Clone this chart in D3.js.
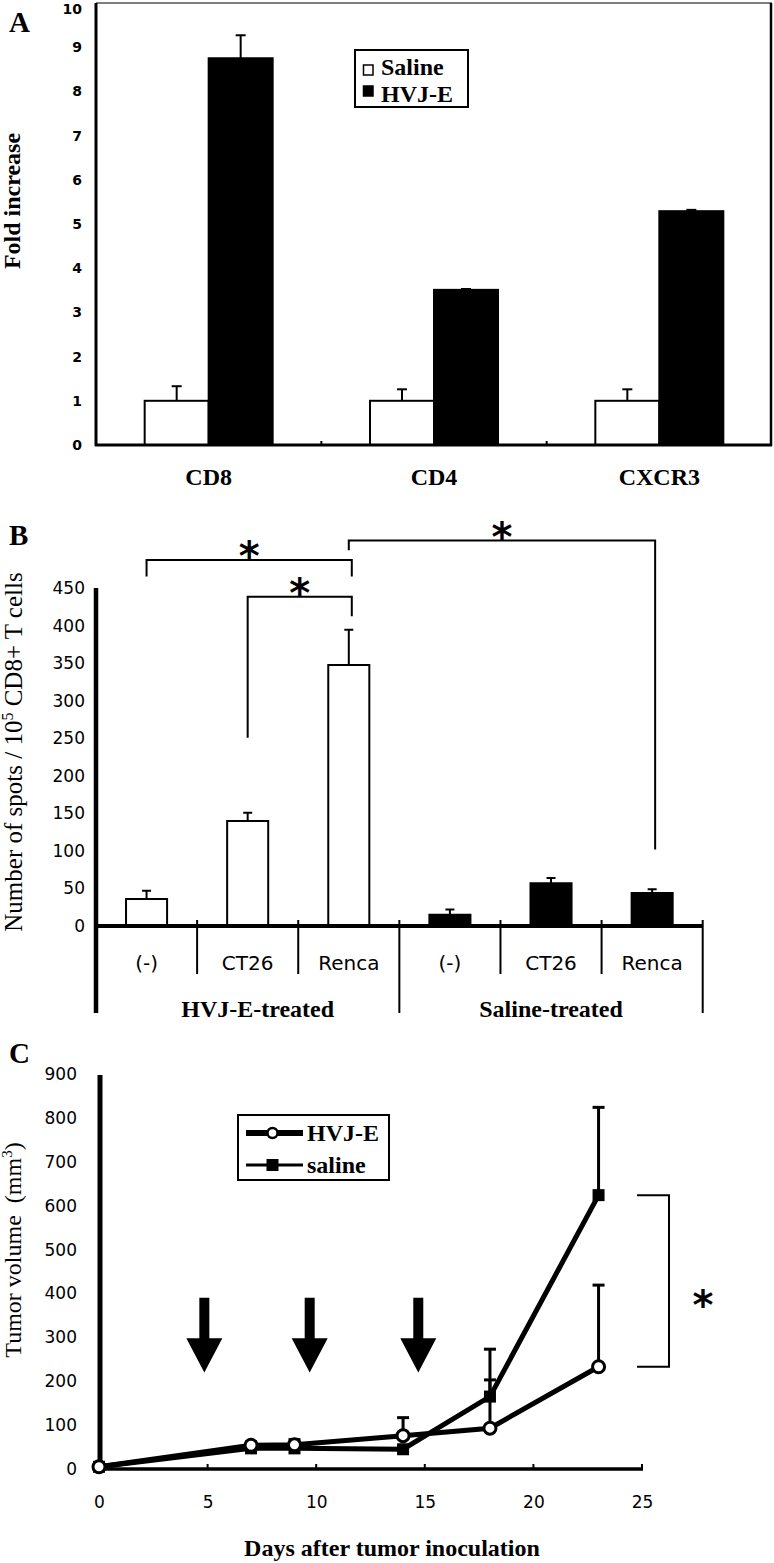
<!DOCTYPE html>
<html><head><meta charset="utf-8">
<script src="https://cdn.jsdelivr.net/npm/d3@7"></script>
<style>body{margin:0;background:#fff} svg{display:block} text{white-space:pre}</style>
</head><body>
<script>
// ---------- Panel A data ----------
const catsA = ["CD8", "CD4", "CXCR3"];
const seriesA = ["Saline", "HVJ-E"];
const salineA = [1, 1, 1];
const salineErrA = [0.33, 0.26, 0.26];
const hvjA = [8.75, 3.51, 5.29];
const hvjErrA = [0.52, 0.02, 0.03];
const ticksA = [0, 1, 2, 3, 4, 5, 6, 7, 8, 9, 10];

// ---------- Panel B data ----------
const groupsB = ["HVJ-E-treated", "Saline-treated"];
const targetsB = ["(-)", "CT26", "Renca"];
const hvjB = [36, 140, 348];
const hvjErrB = [11, 11, 47];
const salineB = [15, 57, 44];
const salineErrB = [7, 7, 5];
const ticksB = [0, 50, 100, 150, 200, 250, 300, 350, 400, 450];
// significance brackets: bar indices (0-5), bracket level, leg ends (data units)
const bracketsB = [
  {a: 0, b: 2, y: 488, ya: 466, yb: 466},
  {a: 1, b: 2, y: 439, ya: 251, yb: 413},
  {a: 2, b: 5, y: 514, ya: 501, yb: 102}
];

// ---------- Panel C data ----------
const daysC = [0, 7, 9, 14, 18, 23];
const hvjC = [5, 54, 55, 76, 93, 233];
const hvjErrC = [0, 8, 12, 41, 110, 186];
const salineC = [5, 47, 47, 45, 165, 624];
const salineErrC = [0, 5, 10, 5, 108, 200];
const ticksCx = [0, 5, 10, 15, 20, 25];
const ticksCy = [0, 100, 200, 300, 400, 500, 600, 700, 800, 900];
const arrowDaysC = [4.85, 9.7, 14.7];

const SERIF = "'Liberation Serif', 'Times New Roman', serif";
const SANS = "'DejaVu Sans', sans-serif";

const svg = d3.select("body").append("svg").attr("width", 774).attr("height", 1563)
  .style("background", "#fff");

function panelLetter(t, x, y) {
  svg.append("text").attr("x", x).attr("y", y).text(t)
    .attr("font-family", SERIF).attr("font-weight", "bold").attr("font-size", 29);
}

// ================= PANEL A =================
{
  const g = svg.append("g");
  const yA = d3.scaleLinear().domain([0, 10]).range([445, 3]);
  const xA = d3.scaleBand().domain(catsA).range([96, 772]).paddingInner(0.432).paddingOuter(0.216);
  const xA1 = d3.scaleBand().domain(seriesA).range([0, xA.bandwidth()]);

  // frame
  g.append("line").attr("x1", 96).attr("x2", 772).attr("y1", 3).attr("y2", 3).attr("stroke", "#555").attr("stroke-width", 1.5);
  g.append("line").attr("x1", 771).attr("x2", 771).attr("y1", 3).attr("y2", 446).attr("stroke", "#000").attr("stroke-width", 2.5);

  const vals = [salineA, hvjA], errs = [salineErrA, hvjErrA];
  seriesA.forEach((s, si) => {
    catsA.forEach((c, ci) => {
      const x = xA(c) + xA1(s), v = vals[si][ci], e = errs[si][ci];
      const cx = x + xA1.bandwidth() / 2;
      g.append("line").attr("x1", cx).attr("x2", cx).attr("y1", yA(v)).attr("y2", yA(v + e))
        .attr("stroke", "#000").attr("stroke-width", 2);
      g.append("line").attr("x1", cx - 5).attr("x2", cx + 5).attr("y1", yA(v + e)).attr("y2", yA(v + e))
        .attr("stroke", "#000").attr("stroke-width", 2);
      g.append("rect").attr("x", x).attr("y", yA(v)).attr("width", xA1.bandwidth()).attr("height", yA(0) - yA(v))
        .attr("fill", si === 0 ? "#fff" : "#000").attr("stroke", "#000").attr("stroke-width", 2);
    });
  });

  // axes
  g.append("line").attr("x1", 96).attr("x2", 96).attr("y1", 3).attr("y2", 446).attr("stroke", "#000").attr("stroke-width", 3);
  g.append("line").attr("x1", 95).attr("x2", 772).attr("y1", 445).attr("y2", 445).attr("stroke", "#000").attr("stroke-width", 3);
  const step = xA.step();
  catsA.slice(1).forEach(c => {
    const bx = xA(c) - xA.paddingInner() * step / 2;
    g.append("line").attr("x1", bx).attr("x2", bx).attr("y1", 445).attr("y2", 441).attr("stroke", "#000").attr("stroke-width", 2);
  });

  const ax = g.append("g").attr("transform", "translate(96,0)")
    .call(d3.axisLeft(yA).tickValues(ticksA).tickSize(0).tickPadding(14).tickFormat(d3.format("d")));
  ax.select(".domain").remove();
  ax.selectAll("text").attr("font-family", SANS).attr("font-weight", "bold").attr("font-size", 14).attr("fill", "#000")
    .attr("dy", d => d === 10 ? "0.75em" : "0.32em");

  catsA.forEach(c => {
    g.append("text").attr("x", xA(c) + xA.bandwidth() / 2).attr("y", 485).attr("text-anchor", "middle")
      .attr("font-family", SERIF).attr("font-weight", "bold").attr("font-size", 24).text(c);
  });

  g.append("text").attr("transform", "translate(20,201) rotate(-90)").attr("text-anchor", "middle")
    .attr("font-family", SERIF).attr("font-weight", "bold").attr("font-size", 24).text("Fold increase");

  // legend
  g.append("rect").attr("x", 355).attr("y", 50).attr("width", 113).attr("height", 57)
    .attr("fill", "#fff").attr("stroke", "#000").attr("stroke-width", 2);
  seriesA.forEach((s, i) => {
    const sy = 70 + i * 21;
    g.append("rect").attr("x", 363.5).attr("y", sy - 5).attr("width", 9.5).attr("height", 10)
      .attr("fill", i === 0 ? "#fff" : "#000").attr("stroke", "#000").attr("stroke-width", 1.5);
    g.append("text").attr("x", 381).attr("y", 75 + i * 27).attr("font-family", SERIF).attr("font-weight", "bold")
      .attr("font-size", 24).text(s);
  });
  panelLetter("A", 9, 32);
}

// ================= PANEL B =================
{
  const g = svg.append("g");
  const yB = d3.scaleLinear().domain([0, 450]).range([926, 588.5]);
  const ids = d3.range(6);
  const xB = d3.scaleBand().domain(ids).range([96, 702.7]).paddingInner(0.594).paddingOuter(0.297);
  const step = xB.step();
  const valsB = hvjB.concat(salineB), errsB = hvjErrB.concat(salineErrB);

  ids.forEach(i => {
    const v = valsB[i], e = errsB[i], x = xB(i), cx = x + xB.bandwidth() / 2;
    g.append("line").attr("x1", cx).attr("x2", cx).attr("y1", yB(v)).attr("y2", yB(v + e)).attr("stroke", "#000").attr("stroke-width", 2);
    g.append("line").attr("x1", cx - 4.5).attr("x2", cx + 4.5).attr("y1", yB(v + e)).attr("y2", yB(v + e)).attr("stroke", "#000").attr("stroke-width", 2);
    g.append("rect").attr("x", x).attr("y", yB(v)).attr("width", xB.bandwidth()).attr("height", yB(0) - yB(v))
      .attr("fill", i < 3 ? "#fff" : "#000").attr("stroke", "#000").attr("stroke-width", 2);
  });

  // axes
  g.append("line").attr("x1", 96).attr("x2", 96).attr("y1", 588).attr("y2", 1013).attr("stroke", "#000").attr("stroke-width", 4.5);
  g.append("line").attr("x1", 96).attr("x2", 703).attr("y1", 926).attr("y2", 926).attr("stroke", "#000").attr("stroke-width", 4);
  d3.range(1, 7).forEach(k => {
    const bx = 96 + k * step;
    const long = (k % 3 === 0);
    g.append("line").attr("x1", bx).attr("x2", bx).attr("y1", 920).attr("y2", long ? 1013 : 974)
      .attr("stroke", "#000").attr("stroke-width", 2);
  });

  const ax = g.append("g").attr("transform", "translate(96,0)")
    .call(d3.axisLeft(yB).tickValues(ticksB).tickSize(0).tickPadding(11).tickFormat(d3.format("d")));
  ax.select(".domain").remove();
  ax.selectAll("text").attr("font-family", SANS).attr("font-size", 17).attr("fill", "#000");

  ids.forEach(i => {
    g.append("text").attr("x", xB(i) + xB.bandwidth() / 2).attr("y", 970).attr("text-anchor", "middle")
      .attr("font-family", SANS).attr("font-size", 20).text(targetsB[i % 3]);
  });
  groupsB.forEach((gr, gi) => {
    g.append("text").attr("x", 96 + (gi * 3 + 1.5) * step + (gi === 0 ? 10 : 0)).attr("y", 1017).attr("text-anchor", "middle")
      .attr("font-family", SERIF).attr("font-weight", "bold").attr("font-size", 24).text(gr);
  });

  // y label
  const yl = g.append("text").attr("transform", "translate(22,752) rotate(-90)").attr("text-anchor", "middle")
    .attr("font-family", SERIF).attr("font-size", 25);
  yl.append("tspan").text("Number of spots / 10");
  yl.append("tspan").attr("dy", -9).attr("font-size", 16).text("5");
  yl.append("tspan").attr("dy", 9).text(" CD8+ T cells");

  // brackets
  bracketsB.forEach(b => {
    const xa = xB(b.a) + xB.bandwidth() / 2, xb = xB(b.b) + xB.bandwidth() / 2 + 3;
    g.append("path").attr("d", `M${xa},${yB(b.ya)}V${yB(b.y)}H${xb}V${yB(b.yb)}`)
      .attr("fill", "none").attr("stroke", "#000").attr("stroke-width", 2);
    g.append("text").attr("x", (xa + xb) / 2).attr("y", yB(b.y) + 10).attr("text-anchor", "middle")
      .attr("font-family", SANS).attr("font-weight", "bold").attr("font-size", 40).text("*");
  });
  panelLetter("B", 9, 545);
}

// ================= PANEL C =================
{
  const g = svg.append("g");
  const xC = d3.scaleLinear().domain([0, 25]).range([99, 642]);
  const yC = d3.scaleLinear().domain([0, 900]).range([1469, 1074]);

  // axes
  g.append("line").attr("x1", 100).attr("x2", 100).attr("y1", 1075).attr("y2", 1471).attr("stroke", "#000").attr("stroke-width", 5);
  g.append("line").attr("x1", 98).attr("x2", 643).attr("y1", 1469).attr("y2", 1469).attr("stroke", "#000").attr("stroke-width", 3.5);
  ticksCx.slice(1).forEach(t => {
    g.append("line").attr("x1", xC(t)).attr("x2", xC(t)).attr("y1", 1469).attr("y2", 1464).attr("stroke", "#000").attr("stroke-width", 2);
  });
  const ay = g.append("g").attr("transform", "translate(100,0)")
    .call(d3.axisLeft(yC).tickValues(ticksCy).tickSize(0).tickPadding(23).tickFormat(d3.format("d")));
  ay.select(".domain").remove();
  ay.selectAll("text").attr("font-family", SANS).attr("font-size", 17).attr("fill", "#000");
  const axb = g.append("g").attr("transform", "translate(0,1469)")
    .call(d3.axisBottom(xC).tickValues(ticksCx).tickSize(0).tickPadding(27).tickFormat(d3.format("d")));
  axb.select(".domain").remove();
  axb.selectAll("text").attr("font-family", SANS).attr("font-size", 17).attr("fill", "#000");

  g.append("text").attr("x", 392).attr("y", 1556).attr("text-anchor", "middle")
    .attr("font-family", SERIF).attr("font-weight", "bold").attr("font-size", 24).text("Days after tumor inoculation");
  const yl = g.append("text").attr("transform", "translate(21,1250) rotate(-90)").attr("text-anchor", "middle")
    .attr("font-family", SERIF).attr("font-size", 24);
  yl.append("tspan").text("Tumor volume  (mm");
  yl.append("tspan").attr("dy", -9).attr("font-size", 15).text("3");
  yl.append("tspan").attr("dy", 9).text(")");

  // arrows
  arrowDaysC.forEach(d => {
    const cx = xC(d);
    g.append("path").attr("d",
      `M${cx - 5},${yC(390)}H${cx + 5}V${yC(298)}H${cx + 18}L${cx},${yC(220)}L${cx - 18},${yC(298)}H${cx - 5}Z`)
      .attr("fill", "#000");
  });

  // error bars
  const errLines = [[salineC, salineErrC], [hvjC, hvjErrC]];
  errLines.forEach(([v, e]) => {
    daysC.forEach((d, i) => {
      if (e[i] <= 0) return;
      const x = xC(d);
      g.append("line").attr("x1", x).attr("x2", x).attr("y1", yC(v[i])).attr("y2", yC(v[i] + e[i])).attr("stroke", "#000").attr("stroke-width", 3);
      g.append("line").attr("x1", x - 6).attr("x2", x + 6).attr("y1", yC(v[i] + e[i])).attr("y2", yC(v[i] + e[i])).attr("stroke", "#000").attr("stroke-width", 3);
    });
  });

  const line = d3.line().x((d, i) => xC(daysC[i])).y(d => yC(d));
  g.append("path").attr("d", line(salineC)).attr("fill", "none").attr("stroke", "#000").attr("stroke-width", 5);
  g.append("path").attr("d", line(hvjC)).attr("fill", "none").attr("stroke", "#000").attr("stroke-width", 5);
  daysC.forEach((d, i) => {
    g.append("rect").attr("x", xC(d) - 6).attr("y", yC(salineC[i]) - 6).attr("width", 12).attr("height", 12).attr("fill", "#000");
  });
  daysC.forEach((d, i) => {
    g.append("circle").attr("cx", xC(d)).attr("cy", yC(hvjC[i])).attr("r", 6).attr("fill", "#fff").attr("stroke", "#000").attr("stroke-width", 3);
  });

  // significance bracket at day 23
  const last = daysC.length - 1;
  g.append("path").attr("d", `M637,${yC(salineC[last])}H669V${yC(hvjC[last])}H637`)
    .attr("fill", "none").attr("stroke", "#000").attr("stroke-width", 2);
  g.append("text").attr("x", 703).attr("y", (yC(salineC[last]) + yC(hvjC[last])) / 2 + 38).attr("text-anchor", "middle")
    .attr("font-family", SANS).attr("font-weight", "bold").attr("font-size", 40).text("*");

  // legend
  g.append("rect").attr("x", 238).attr("y", 1115).attr("width", 151).attr("height", 65)
    .attr("fill", "#fff").attr("stroke", "#000").attr("stroke-width", 2);
  g.append("line").attr("x1", 246).attr("x2", 303).attr("y1", 1133).attr("y2", 1133).attr("stroke", "#000").attr("stroke-width", 6);
  g.append("circle").attr("cx", 272.5).attr("cy", 1133).attr("r", 5).attr("fill", "#fff").attr("stroke", "#000").attr("stroke-width", 2.5);
  g.append("line").attr("x1", 246).attr("x2", 303).attr("y1", 1165).attr("y2", 1165).attr("stroke", "#000").attr("stroke-width", 3);
  g.append("rect").attr("x", 266.5).attr("y", 1159).attr("width", 12).attr("height", 12).attr("fill", "#000");
  g.append("text").attr("x", 307).attr("y", 1141).attr("font-family", SERIF).attr("font-weight", "bold").attr("font-size", 24).text("HVJ-E");
  g.append("text").attr("x", 307).attr("y", 1173).attr("font-family", SERIF).attr("font-weight", "bold").attr("font-size", 24).text("saline");

  panelLetter("C", 9, 1063);
}
</script>
</body></html>
